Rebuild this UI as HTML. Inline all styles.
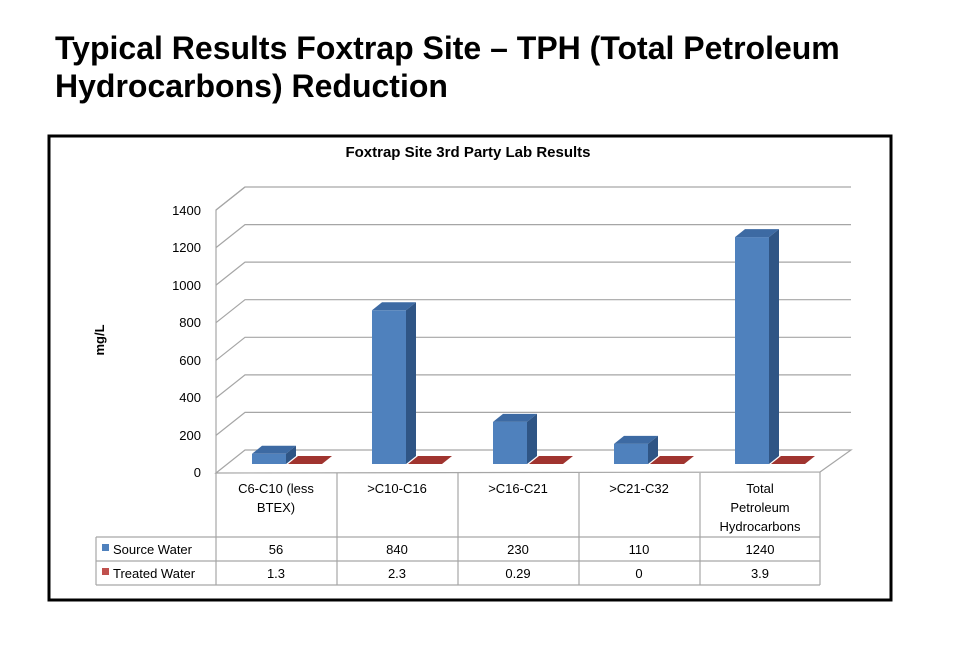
<!DOCTYPE html>
<html><head><style>
body{margin:0;width:956px;height:663px;background:#fff;overflow:hidden;font-family:"Liberation Sans",sans-serif}
</style></head><body>
<svg width="956" height="663" xmlns="http://www.w3.org/2000/svg" font-family="Liberation Sans, sans-serif">
<text x="55" y="59" font-size="32" font-weight="bold" fill="#000">Typical Results Foxtrap Site – TPH (Total Petroleum</text>
<text x="55" y="97" font-size="32" font-weight="bold" fill="#000">Hydrocarbons) Reduction</text>
<rect x="49" y="136" width="842" height="464" fill="#fff" stroke="#000" stroke-width="3"/>
<text x="468" y="157" font-size="15" font-weight="bold" text-anchor="middle">Foxtrap Site 3rd Party Lab Results</text>
<text transform="translate(104,340) rotate(-90)" font-size="13" font-weight="bold" text-anchor="middle">mg/L</text>
<g stroke="#a6a6a6" stroke-width="1.2" fill="none">
<path d="M216,473 L216,210 L245,187"/>
<path d="M216,473 L245,450 L851,450 L820,472 Z"/>
<path d="M216,210 L245,187 L851,187"/>
<path d="M216,247.6 L245,224.6 L851,224.6"/>
<path d="M216,285.1 L245,262.1 L851,262.1"/>
<path d="M216,322.7 L245,299.7 L851,299.7"/>
<path d="M216,360.3 L245,337.3 L851,337.3"/>
<path d="M216,397.9 L245,374.9 L851,374.9"/>
<path d="M216,435.4 L245,412.4 L851,412.4"/>
</g>
<g font-size="13" text-anchor="end" fill="#000">
<text x="201" y="215">1400</text><text x="201" y="252">1200</text><text x="201" y="290">1000</text>
<text x="201" y="327">800</text><text x="201" y="365">600</text><text x="201" y="402">400</text>
<text x="201" y="440">200</text><text x="201" y="477">0</text>
</g>
<g>
<rect x="252" y="453.8" width="34" height="10.2" fill="#4f81bd"/><path d="M252,453.8 l10,-8 h34 l-10,8z" fill="#3d6aa3"/><path d="M286,453.8 l10,-8 v10.2 l-10,8z" fill="#2f5585"/>
<rect x="372" y="310.3" width="34" height="153.7" fill="#4f81bd"/><path d="M372,310.3 l10,-8 h34 l-10,8z" fill="#3d6aa3"/><path d="M406,310.3 l10,-8 v153.7 l-10,8z" fill="#2f5585"/>
<rect x="493" y="421.9" width="34" height="42.1" fill="#4f81bd"/><path d="M493,421.9 l10,-8 h34 l-10,8z" fill="#3d6aa3"/><path d="M527,421.9 l10,-8 v42.1 l-10,8z" fill="#2f5585"/>
<rect x="614" y="443.9" width="34" height="20.1" fill="#4f81bd"/><path d="M614,443.9 l10,-8 h34 l-10,8z" fill="#3d6aa3"/><path d="M648,443.9 l10,-8 v20.1 l-10,8z" fill="#2f5585"/>
<rect x="735" y="237.1" width="34" height="226.9" fill="#4f81bd"/><path d="M735,237.1 l10,-8 h34 l-10,8z" fill="#3d6aa3"/><path d="M769,237.1 l10,-8 v226.9 l-10,8z" fill="#2f5585"/>
<g fill="#a0342f">
<path d="M288,464 l10,-8 h34 l-10,8z"/><path d="M408,464 l10,-8 h34 l-10,8z"/>
<path d="M529,464 l10,-8 h34 l-10,8z"/><path d="M650,464 l10,-8 h34 l-10,8z"/>
<path d="M771,464 l10,-8 h34 l-10,8z"/>
</g>
</g>
<g stroke="#a6a6a6" stroke-width="1.2" fill="none">
<path d="M216,473 V585 M337,473 V585 M458,473 V585 M579,473 V585 M700,473 V585 M820,472 V585"/>
<path d="M96,537 H820 M96,561 H820 M96,585 H820 M96,537 V585"/>
</g>
<g font-size="13" text-anchor="middle" fill="#000">
<text x="276" y="493">C6-C10 (less</text><text x="276" y="512">BTEX)</text>
<text x="397" y="493">&gt;C10-C16</text><text x="518" y="493">&gt;C16-C21</text><text x="639" y="493">&gt;C21-C32</text>
<text x="760" y="493">Total</text><text x="760" y="512">Petroleum</text><text x="760" y="531">Hydrocarbons</text>
<text x="276" y="554">56</text><text x="397" y="554">840</text><text x="518" y="554">230</text><text x="639" y="554">110</text><text x="760" y="554">1240</text>
<text x="276" y="578">1.3</text><text x="397" y="578">2.3</text><text x="518" y="578">0.29</text><text x="639" y="578">0</text><text x="760" y="578">3.9</text>
</g>
<rect x="102" y="544" width="7" height="7" fill="#4f81bd"/><text x="113" y="554" font-size="13">Source Water</text>
<rect x="102" y="568" width="7" height="7" fill="#c0504d"/><text x="113" y="578" font-size="13">Treated Water</text>
</svg>
</body></html>
